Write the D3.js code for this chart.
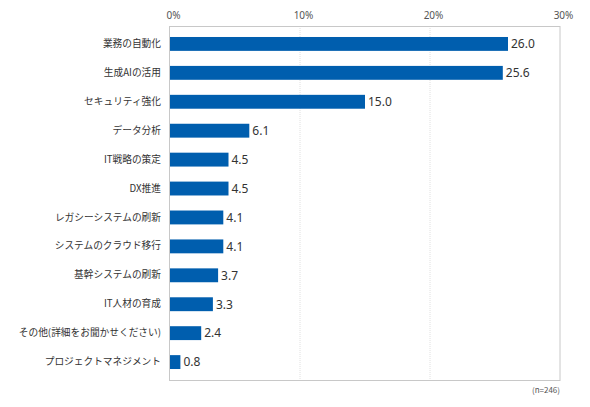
<!DOCTYPE html>
<html>
<head>
<meta charset="utf-8">
<script src="https://cdn.jsdelivr.net/npm/d3@7"></script>
<style>
  body { margin: 0; background: #fff; }
  text { font-family: "Noto Sans CJK JP", "Noto Sans", sans-serif; }
</style>
</head>
<body>
<div id="chart"></div>
<script>
var categories = [
  "業務の自動化", "生成AIの活用", "セキュリティ強化", "データ分析",
  "IT戦略の策定", "DX推進", "レガシーシステムの刷新", "システムのクラウド移行",
  "基幹システムの刷新", "IT人材の育成", "その他(詳細をお聞かせください)", "プロジェクトマネジメント"
];
var values = [26.0, 25.6, 15.0, 6.1, 4.5, 4.5, 4.1, 4.1, 3.7, 3.3, 2.4, 0.8];
var tickValues = [0, 10, 20, 30];
var note = "(n=246)";

var svgWidth = 590;
var svgHeight = 407;
var margin = { top: 26, right: 30, bottom: 27, left: 169 };
var width = svgWidth - margin.left - margin.right;
var height = svgHeight - margin.top - margin.bottom;

var svg = d3.select("#chart")
    .append("svg")
    .attr("width", svgWidth)
    .attr("height", svgHeight);

var chartGroup = svg.append("g")
    .attr("transform", `translate(${margin.left}, ${margin.top})`);

var xScale = d3.scaleLinear()
    .domain([0, 30])
    .range([1, width]);

var yScale = d3.scaleBand()
    .domain(categories)
    .range([0, height])
    .paddingInner(0.52)
    .paddingOuter(0.38);

// gridlines
chartGroup.selectAll(".grid")
    .data(tickValues.slice(1, -1))
    .enter()
    .append("line")
    .attr("x1", d => xScale(d))
    .attr("x2", d => xScale(d))
    .attr("y1", 0)
    .attr("y2", height)
    .attr("stroke", "#e0e0e0")
    .attr("stroke-width", 1)
    .attr("stroke-dasharray", "1,1");

// frame
chartGroup.append("rect")
    .attr("x", 0.5)
    .attr("y", 0.5)
    .attr("width", width - 0.5)
    .attr("height", height)
    .attr("fill", "none")
    .attr("stroke", "#c8c8c8");

// top axis
var topAxis = d3.axisTop(xScale)
    .tickValues(tickValues)
    .tickSize(0)
    .tickPadding(7)
    .tickFormat(d => d + "%");

chartGroup.append("g")
    .call(topAxis)
    .call(g => g.select(".domain").remove())
    .selectAll("text")
    .attr("font-size", "10px")
    .attr("fill", "#555")
    .attr("dx", "3px")
    .style("font-family", "'Noto Sans', sans-serif");

// category labels
var leftAxis = d3.axisLeft(yScale)
    .tickSize(0)
    .tickPadding(8);

chartGroup.append("g")
    .call(leftAxis)
    .call(g => g.select(".domain").remove())
    .selectAll("text")
    .attr("font-size", "9.7px")
    .attr("fill", "#333")
    .style("font-family", "'Noto Sans CJK JP', sans-serif");

// bars
chartGroup.selectAll(".bar")
    .data(values)
    .enter()
    .append("rect")
    .attr("x", xScale(0))
    .attr("y", (d, i) => yScale(categories[i]))
    .attr("width", d => xScale(d) - xScale(0))
    .attr("height", yScale.bandwidth())
    .attr("fill", "#005eae");

// value labels
chartGroup.selectAll(".val")
    .data(values)
    .enter()
    .append("text")
    .attr("x", d => xScale(d) + 3)
    .attr("y", (d, i) => yScale(categories[i]) + yScale.bandwidth() / 2)
    .attr("dy", "0.36em")
    .attr("font-size", "12px")
    .attr("fill", "#333")
    .style("font-family", "'Noto Sans', sans-serif")
    .text(d => d.toFixed(1));

// sample size
svg.append("text")
    .attr("x", margin.left + width)
    .attr("y", margin.top + height + 13)
    .attr("text-anchor", "end")
    .attr("font-size", "8px")
    .attr("fill", "#555")
    .text(note);
</script>
</body>
</html>
